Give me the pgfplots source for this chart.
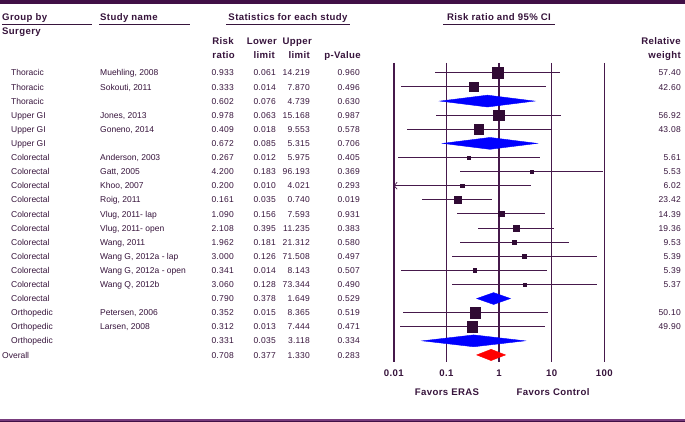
\documentclass[border=0pt]{standalone}
\usepackage{pgfplots}
\pgfplotsset{compat=1.18}
\usepackage{pgfplotstable}
\usetikzlibrary{arrows.meta}
\usepackage{fontspec}
\setmainfont{Liberation Sans}
\newfontfamily\headfont[LetterSpace=4]{Liberation Sans}
\newfontfamily\numfont[LetterSpace=3]{Liberation Sans}
\definecolor{textcol}{RGB}{55,20,60}
\definecolor{linecol}{RGB}{70,25,75}
\definecolor{sqcol}{RGB}{48,10,52}
\definecolor{barcol}{RGB}{65,15,70}
\definecolor{lightbar}{RGB}{120,60,125}

\pgfplotstableread{
row rr    lo    hi     w
1   0.933 0.061 14.219 57.40
2   0.333 0.014 7.870  42.60
4   0.978 0.063 15.168 56.92
5   0.409 0.018 9.553  43.08
7   0.267 0.012 5.975  5.61
8   4.200 0.183 96.193 5.53
9   0.200 0.010 4.021  6.02
10  0.161 0.035 0.740  23.42
11  1.090 0.156 7.593  14.39
12  2.108 0.395 11.235 19.36
13  1.962 0.181 21.312 9.53
14  3.000 0.126 71.508 5.39
15  0.341 0.014 8.143  5.39
16  3.060 0.128 73.344 5.37
18  0.352 0.015 8.365  50.10
19  0.312 0.013 7.444  49.90
}\studies

\newcommand{\body}{\fontsize{8.5}{10}\selectfont\color{textcol}}
\newcommand{\nbody}{\numfont\fontsize{8.5}{10}\selectfont\color{textcol}}
\newcommand{\head}{\headfont\fontsize{9.6}{11}\selectfont\bfseries\color{textcol}}

\begin{document}
\begin{tikzpicture}[x=1pt,y=1pt]
\path[fill=white] (0,0) rectangle (685,422);
% frame bands
\fill[barcol] (0,418) rectangle (685,422);
\fill[lightbar] (0,0) rectangle (685,3);
\fill[barcol] (0,0) rectangle (685,1.2);

\begin{axis}[
  at={(393.7pt,60pt)}, anchor=south west,
  scale only axis, width=210.6pt, height=299pt,
  xmode=log, xmin=0.01, xmax=100,
  ymin=0.3, ymax=21.5, y dir=reverse,
  clip=false,
  axis line style={draw=none},
  tick style={draw=none},
  ytick=\empty,
  xtick={0.01,0.1,1,10,100},
  xticklabels={0.01,0.1,1,10,100},
  xticklabel style={font=\head, yshift=-4pt},
]
% reference lines
\addplot[linecol, line width=1.6pt] coordinates {(0.01,0.3) (0.01,21.5)};
\addplot[linecol, line width=0.7pt] coordinates {(0.1,0.3) (0.1,21.5)};
\addplot[linecol, line width=1.3pt] coordinates {(1,0.3) (1,21.5)};
\addplot[linecol, line width=1.6pt] coordinates {(10,0.3) (10,21.5)};
\addplot[linecol, line width=0.7pt] coordinates {(100,0.3) (100,21.5)};

% studies
\addplot[scatter, only marks, mark=square*, point meta=explicit,
  scatter/use mapped color={draw=sqcol, fill=sqcol},
  visualization depends on={0.72*sqrt(\thisrow{w}) \as \msz},
  scatter/@pre marker code/.append style={/tikz/mark size=\msz pt},
  error bars/.cd, x dir=both, x explicit,
  error bar style={line width=1pt, color=linecol}, error mark=none]
  table[x=rr, y=row, meta=w,
    x error plus expr=\thisrow{hi}-\thisrow{rr},
    x error minus expr=\thisrow{rr}-\thisrow{lo}] {\studies};

% arrow for truncated lower limit (Khoo)
\addplot[linecol, line width=0.7pt, {Straight Barb[length=3pt,width=7pt]}-] coordinates {(0.01,9) (0.02,9)};

% subgroup diamonds
\addplot[fill=blue, draw=blue] coordinates {(0.076,3) (0.602,2.58) (4.739,3) (0.602,3.42)} -- cycle;
\addplot[fill=blue, draw=blue] coordinates {(0.085,6) (0.672,5.58) (5.315,6) (0.672,6.42)} -- cycle;
\addplot[fill=blue, draw=blue] coordinates {(0.378,17) (0.790,16.58) (1.649,17) (0.790,17.42)} -- cycle;
\addplot[fill=blue, draw=blue] coordinates {(0.035,20) (0.331,19.58) (3.118,20) (0.331,20.42)} -- cycle;
% overall
\addplot[fill=red, draw=red] coordinates {(0.377,21) (0.708,20.6) (1.330,21) (0.708,21.4)} -- cycle;
\end{axis}

% headers
\node[anchor=base west, inner sep=0] at (2,401) {\head Group by};
\draw[textcol, line width=0.6pt] (2,397.5) -- (92,397.5);
\node[anchor=base west, inner sep=0] at (2,387) {\head Surgery};
\node[anchor=base west, inner sep=0] at (100,401) {\head Study name};
\draw[textcol, line width=0.6pt] (99,397.5) -- (190,397.5);
\node[anchor=base, inner sep=0] at (288,401) {\head Statistics for each study};
\draw[textcol, line width=0.6pt] (226,397.5) -- (350,397.5);
\node[anchor=base, inner sep=0] at (499,401) {\head Risk ratio and 95\% CI};
\draw[textcol, line width=0.6pt] (443,397.5) -- (555,397.5);

\node[anchor=base east, inner sep=0] at (234,377) {\head Risk};
\node[anchor=base east, inner sep=0] at (235,363) {\head ratio};
\node[anchor=base east, inner sep=0] at (277,377) {\head Lower};
\node[anchor=base east, inner sep=0] at (275,363) {\head limit};
\node[anchor=base east, inner sep=0] at (312,377) {\head Upper};
\node[anchor=base east, inner sep=0] at (310,363) {\head limit};
\node[anchor=base east, inner sep=0] at (361,363) {\head p-Value};
\node[anchor=base east, inner sep=0] at (681,377) {\head Relative};
\node[anchor=base east, inner sep=0] at (681,363) {\head weight};

% favors
\node[anchor=base, inner sep=0] at (447,26) {\head Favors ERAS};
\node[anchor=base, inner sep=0] at (553,26) {\head Favors Control};

% group and study names
\foreach \r/\g/\s in {1/Thoracic/{Muehling, 2008}, 2/Thoracic/{Sokouti, 2011}, 3/Thoracic/{},
  4/Upper GI/{Jones, 2013}, 5/Upper GI/{Goneno, 2014}, 6/Upper GI/{},
  7/Colorectal/{Anderson, 2003}, 8/Colorectal/{Gatt, 2005}, 9/Colorectal/{Khoo, 2007},
  10/Colorectal/{Roig, 2011}, 11/Colorectal/{Vlug, 2011- lap}, 12/Colorectal/{Vlug, 2011- open},
  13/Colorectal/{Wang, 2011}, 14/Colorectal/{Wang G, 2012a - lap}, 15/Colorectal/{Wang G, 2012a - open},
  16/Colorectal/{Wang Q, 2012b}, 17/Colorectal/{}, 18/Orthopedic/{Petersen, 2006},
  19/Orthopedic/{Larsen, 2008}, 20/Orthopedic/{}}{
  \pgfmathsetmacro{\yy}{349.13-(\r-1)*14.104-3.1}
  \node[anchor=base west, inner sep=0] at (11,\yy) {\body \g};
  \node[anchor=base west, inner sep=0] at (100,\yy) {\body \s};
}
\node[anchor=base west, inner sep=0] at (2,{349.13-20*14.104-3.1}) {\body Overall};

% statistics
\foreach \r/\a/\b/\c/\d in {1/0.933/0.061/14.219/0.960, 2/0.333/0.014/7.870/0.496, 3/0.602/0.076/4.739/0.630,
  4/0.978/0.063/15.168/0.987, 5/0.409/0.018/9.553/0.578, 6/0.672/0.085/5.315/0.706,
  7/0.267/0.012/5.975/0.405, 8/4.200/0.183/96.193/0.369, 9/0.200/0.010/4.021/0.293,
  10/0.161/0.035/0.740/0.019, 11/1.090/0.156/7.593/0.931, 12/2.108/0.395/11.235/0.383,
  13/1.962/0.181/21.312/0.580, 14/3.000/0.126/71.508/0.497, 15/0.341/0.014/8.143/0.507,
  16/3.060/0.128/73.344/0.490, 17/0.790/0.378/1.649/0.529, 18/0.352/0.015/8.365/0.519,
  19/0.312/0.013/7.444/0.471, 20/0.331/0.035/3.118/0.334, 21/0.708/0.377/1.330/0.283}{
  \pgfmathsetmacro{\yy}{349.13-(\r-1)*14.104-3.1}
  \node[anchor=base east, inner sep=0] at (234,\yy) {\nbody \a};
  \node[anchor=base east, inner sep=0] at (276,\yy) {\nbody \b};
  \node[anchor=base east, inner sep=0] at (310,\yy) {\nbody \c};
  \node[anchor=base east, inner sep=0] at (360,\yy) {\nbody \d};
}
% relative weights
\foreach \r/\w in {1/57.40, 2/42.60, 4/56.92, 5/43.08, 7/5.61, 8/5.53, 9/6.02, 10/23.42,
  11/14.39, 12/19.36, 13/9.53, 14/5.39, 15/5.39, 16/5.37, 18/50.10, 19/49.90}{
  \pgfmathsetmacro{\yy}{349.13-(\r-1)*14.104-3.1}
  \node[anchor=base east, inner sep=0] at (681,\yy) {\nbody \w};
}
\end{tikzpicture}
\end{document}
